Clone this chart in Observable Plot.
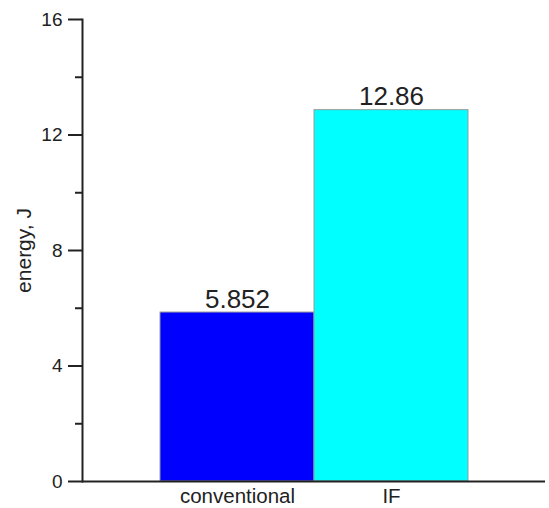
<!DOCTYPE html>
<html>
<head>
<meta charset="utf-8">
<script src="https://cdn.jsdelivr.net/npm/d3@7"></script>
<script src="https://cdn.jsdelivr.net/npm/@observablehq/plot@0.6"></script>
<style>
  html, body { margin: 0; padding: 0; background: #fff; }
  svg { display: block; }
</style>
</head>
<body>
<div id="chart"></div>
<script>
const categories = ["conventional", "IF"];
const values = [5.852, 12.86];
const valueLabels = ["5.852", "12.86"];
const colors = ["#0000ff", "#00ffff"];
const majorTicks = [0, 4, 8, 12, 16];
const minorTicks = [2, 6, 10, 14];

const data = categories.map((c, i) => ({category: c, value: values[i], label: valueLabels[i]}));

const chart = Plot.plot({
  width: 549,
  height: 508,
  marginLeft: 82,
  marginRight: 4,
  marginTop: 19,
  marginBottom: 27,
  style: {fontFamily: "'Liberation Sans', Arial, sans-serif", fontSize: "19px", color: "#222", background: "#fff"},
  x: {domain: categories, paddingInner: 0, paddingOuter: 0.5, axis: null},
  y: {domain: [0, 16], axis: null},
  color: {domain: categories, range: colors},
  marks: [
    Plot.barY(data, {x: "category", y: "value", fill: "category", stroke: "#9a9a9a", strokeWidth: 1}),
    Plot.text(data, {x: "category", y: "value", text: "label", lineAnchor: "bottom", dy: -5, fontSize: 26, fill: "#222"}),
    Plot.axisY({ticks: majorTicks, tickSize: 14, tickPadding: 6, fontSize: 19, strokeWidth: 2, stroke: "#222", label: null}),
    Plot.axisY({ticks: minorTicks, tickSize: 7, text: null, strokeWidth: 2, stroke: "#222", fontSize: 21, label: "energy, J", labelAnchor: "center", labelArrow: "none", labelOffset: 66}),
    Plot.axisX({tickSize: 0, tickPadding: 7, fontSize: 20.5, label: null}),
    Plot.frame({anchor: "left", stroke: "#222", strokeWidth: 2}),
    Plot.ruleY([0], {stroke: "#222", strokeWidth: 2})
  ]
});
document.getElementById("chart").appendChild(chart);
</script>
</body>
</html>
